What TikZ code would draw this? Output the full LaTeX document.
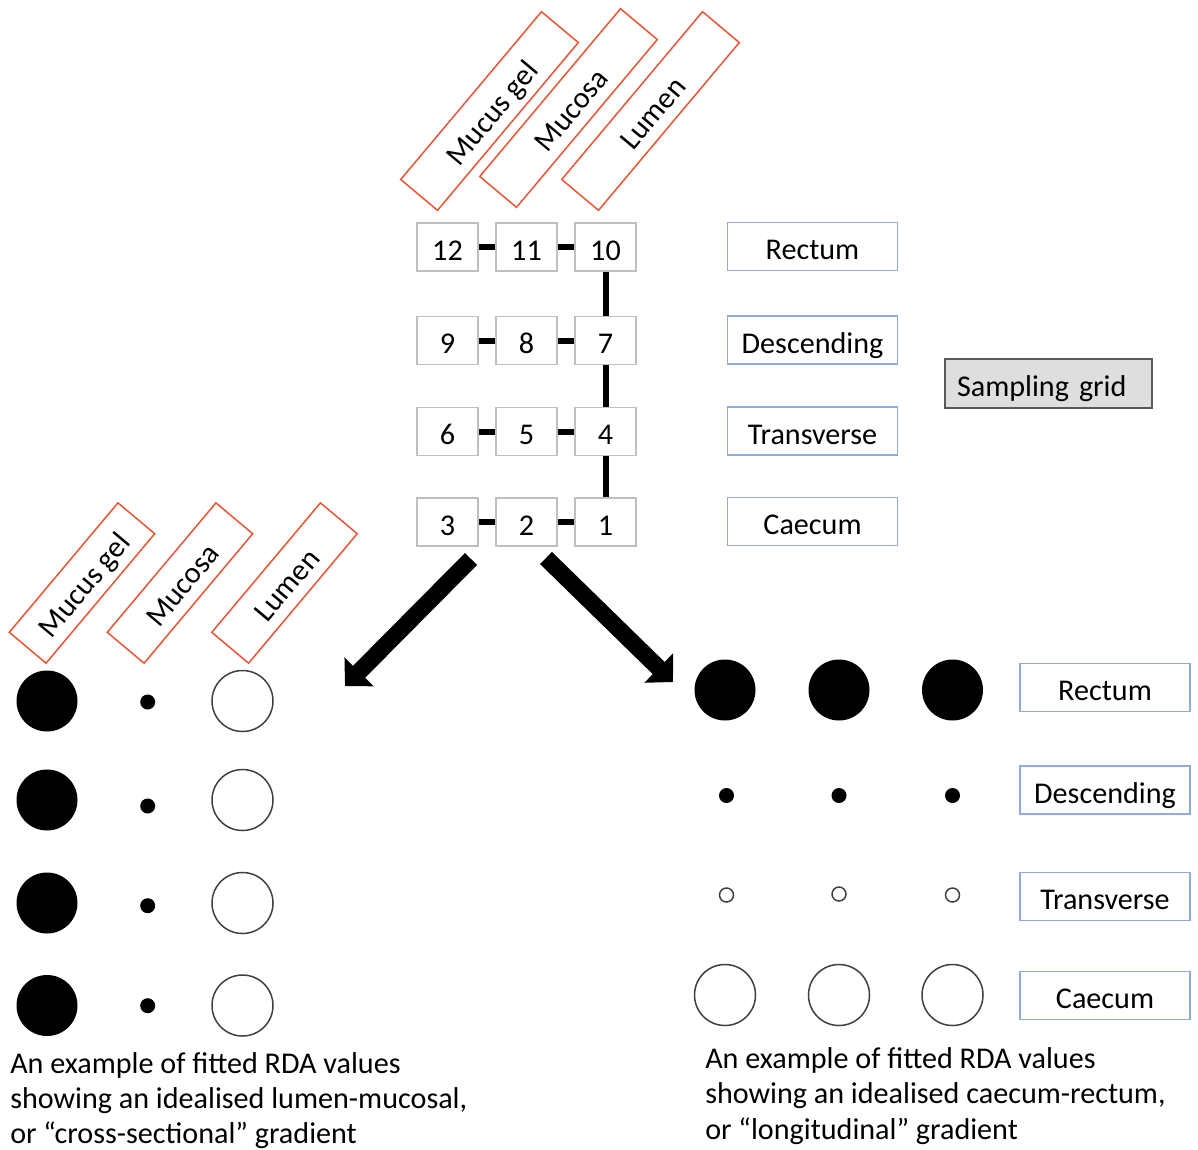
\documentclass[tikz,border=0pt]{standalone}
\usepackage{fontspec}
\setmainfont{Carlito}
\usetikzlibrary{arrows.meta}
\newdimen\pxu \pxu=0.75pt
\definecolor{redbox}{RGB}{233,84,50}
\definecolor{bluebox}{RGB}{143,170,220}
\definecolor{gridgrey}{RGB}{191,191,191}
\definecolor{circgrey}{RGB}{64,64,64}
\definecolor{samplefill}{RGB}{222,222,222}
\definecolor{sampledraw}{RGB}{89,89,89}
\begin{document}
\begin{tikzpicture}[x=0.75pt,y=-0.75pt,
  font=\fontsize{22.6}{26.5}\selectfont,
  txt/.style={inner sep=0pt, text height=21pt, text depth=1.5pt},
  gridbox/.style={txt, draw=gridgrey, line width=1.5\pxu, minimum width=61\pxu, minimum height=48\pxu},
  labelbox/.style={txt, draw=bluebox, line width=1.5\pxu, minimum width=170\pxu, minimum height=48\pxu},
  layerbox/.style={txt, draw=redbox, line width=1.5\pxu, minimum height=48\pxu, rotate=50},
  toplayer/.style={layerbox, minimum width=219\pxu},
  lowlayer/.style={layerbox, minimum width=169\pxu},
  samplebox/.style={txt, draw=sampledraw, fill=samplefill, line width=1.5\pxu, minimum height=49\pxu, text width=183\pxu, inner xsep=12\pxu, align=left},
  link/.style={line width=6\pxu},
  bigarrow/.style={line width=17\pxu, -{Triangle[width=30pt,length=15pt]}},
  bigfill/.style={circle, fill=black, inner sep=0pt, minimum size=61\pxu},
  smallfill/.style={circle, fill=black, inner sep=0pt, minimum size=15\pxu},
  bigopen/.style={circle, draw=circgrey, line width=1.5\pxu, inner sep=0pt, minimum size=61\pxu},
  smallopen/.style={circle, draw=circgrey, line width=1.5\pxu, inner sep=0pt, minimum size=14\pxu},
  caption/.style={anchor=base west, inner sep=0pt}
]
\useasboundingbox (0,0) rectangle (1198,1149);

% top layer labels
\node[toplayer] (tmucus) at (489.5,111) {Mucus gel};
\node[toplayer] (tmucosa) at (568.5,108) {Mucosa};
\node[toplayer] (tlumen) at (650.5,111) {Lumen};

% sampling grid
\node[gridbox] (g12) at (447.5,247) {12};
\node[gridbox] (g11) at (526.5,247) {11};
\node[gridbox] (g10) at (605.5,247) {10};
\node[gridbox] (g9) at (447.5,340.5) {9};
\node[gridbox] (g8) at (526.5,340.5) {8};
\node[gridbox] (g7) at (605.5,340.5) {7};
\node[gridbox] (g6) at (447.5,431.5) {6};
\node[gridbox] (g5) at (526.5,431.5) {5};
\node[gridbox] (g4) at (605.5,431.5) {4};
\node[gridbox] (g3) at (447.5,522) {3};
\node[gridbox] (g2) at (526.5,522) {2};
\node[gridbox] (g1) at (605.5,522) {1};

\draw[link] (g12) -- (g11);
\draw[link] (g11) -- (g10);
\draw[link] (g9) -- (g8);
\draw[link] (g8) -- (g7);
\draw[link] (g6) -- (g5);
\draw[link] (g5) -- (g4);
\draw[link] (g3) -- (g2);
\draw[link] (g2) -- (g1);
\draw[link] (g10) -- (g7);
\draw[link] (g7) -- (g4);
\draw[link] (g4) -- (g1);

% region labels (top)
\node[labelbox] (trectum) at (812.5,246.5) {Rectum};
\node[labelbox] (tdesc) at (812.5,340) {Descending};
\node[labelbox] (ttrans) at (812.5,431) {Transverse};
\node[labelbox] (tcaec) at (812.5,521.5) {Caecum};

\node[samplebox] (sgrid) at (1048.5,383.5) {Sampling grid};

% arrows
\coordinate (aLs) at (471,559);
\coordinate (aLe) at (345,686);
\coordinate (aRs) at (546,558);
\coordinate (aRe) at (673,682);
\draw[bigarrow] (aLs) -- (aLe);
\draw[bigarrow] (aRs) -- (aRe);

% lower-left layer labels
\node[lowlayer] (lmucus) at (82,583) {Mucus gel};
\node[lowlayer] (lmucosa) at (180,583) {Mucosa};
\node[lowlayer] (llumen) at (284.5,583) {Lumen};

% lower-left circles
\node[bigfill] (la1) at (47,701) {};
\node[smallfill] (lb1) at (147.7,702) {};
\node[bigopen] (lc1) at (242.5,701) {};
\node[bigfill] (la2) at (47,800) {};
\node[smallfill] (lb2) at (147.7,806) {};
\node[bigopen] (lc2) at (242.5,800) {};
\node[bigfill] (la3) at (47,903) {};
\node[smallfill] (lb3) at (147.7,905.7) {};
\node[bigopen] (lc3) at (242.5,903) {};
\node[bigfill] (la4) at (47,1005.5) {};
\node[smallfill] (lb4) at (147.7,1005.7) {};
\node[bigopen] (lc4) at (242.5,1005.5) {};

% lower-right circles
\node[bigfill] (ra1) at (725,690) {};
\node[bigfill] (rb1) at (839,690) {};
\node[bigfill] (rc1) at (952.5,690) {};
\node[smallfill] (ra2) at (726.5,795.5) {};
\node[smallfill] (rb2) at (839,795.5) {};
\node[smallfill] (rc2) at (952.5,795.5) {};
\node[smallopen] (ra3) at (726.5,895) {};
\node[smallopen] (rb3) at (839,894) {};
\node[smallopen] (rc3) at (952.5,895) {};
\node[bigopen] (ra4) at (725,995) {};
\node[bigopen] (rb4) at (839,995) {};
\node[bigopen] (rc4) at (952.5,995) {};

% lower-right region labels
\node[labelbox] (brectum) at (1105,687.5) {Rectum};
\node[labelbox] (bdesc) at (1105,790) {Descending};
\node[labelbox] (btrans) at (1105,896.5) {Transverse};
\node[labelbox] (bcaec) at (1105,995.5) {Caecum};

% captions
\node[caption] (capL) at (10,1073) {\begin{tabular}[t]{@{}l@{}}An example of fitted RDA values\\showing an idealised lumen-mucosal,\\or “cross-sectional” gradient\end{tabular}};
\node[caption] (capR) at (705,1068.5) {\begin{tabular}[t]{@{}l@{}}An example of fitted RDA values\\showing an idealised caecum-rectum,\\or “longitudinal” gradient\end{tabular}};
\end{tikzpicture}
\end{document}
